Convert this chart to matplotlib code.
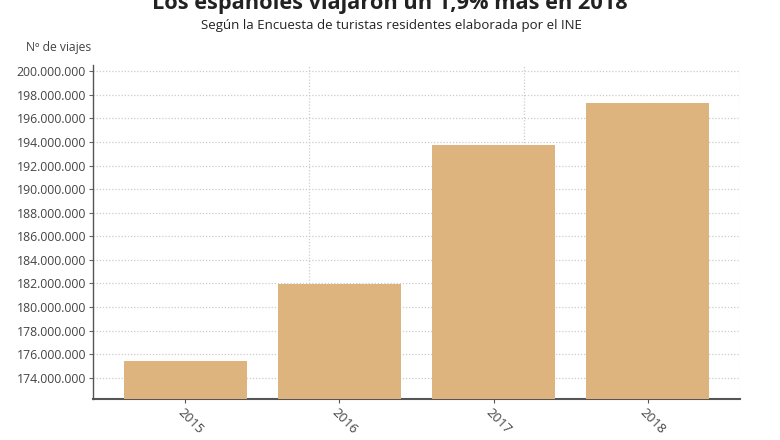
import matplotlib
matplotlib.use("Agg")
import matplotlib.pyplot as plt
from matplotlib.ticker import FuncFormatter, MultipleLocator

years = ["2015", "2016", "2017", "2018"]
trips = [175440000, 181960000, 193700000, 197300000]

title = "Los españoles viajaron un 1,9% más en 2018"
subtitle = "Según la Encuesta de turistas residentes elaborada por el INE"
ylabel = "Nº de viajes"

plt.rcParams['font.family'] = ['Open Sans', 'DejaVu Sans']

fig = plt.figure(figsize=(7.8, 4.4), dpi=100)
ax = fig.add_axes([93/780, 1-399/440, (740-93)/780, (399-65)/440])

x = list(range(len(years)))
ax.bar(x, trips, width=0.8, color="#DDB47E", zorder=3)
ax.set_xlim(-0.6, 3.6)
ax.set_ylim(172190000, 200530000)

ax.yaxis.set_major_locator(MultipleLocator(2000000))
ax.yaxis.set_major_formatter(FuncFormatter(lambda v, p: f"{int(round(v)):,}".replace(",", ".")))
ax.set_xticks(x)
ax.set_xticklabels([])

for xi, lab in zip(x, years):
    ax.annotate(lab, xy=(xi, 0), xycoords=("data", "axes fraction"),
                xytext=(-4, -8), textcoords="offset points",
                rotation=-45, ha="left", va="center", rotation_mode="anchor",
                fontsize=9.5, color="#444444")

ax.tick_params(axis="y", labelsize=8.8, labelcolor="#444444", length=3, color="#666666", pad=2)
ax.tick_params(axis="x", length=3, color="#555555", direction="out")

ax.grid(axis="y", linestyle=(0, (1, 1.5)), color="#cccccc", linewidth=0.9, zorder=0)
for f in [1/3, 2/3, 1.0]:
    ax.axvline(-0.6 + 4.2 * f, linestyle=(0, (1, 1.5)), color="#cccccc", linewidth=0.9, zorder=0)

for s in ["top", "right"]:
    ax.spines[s].set_visible(False)
ax.spines["left"].set_linestyle((0, (1, 1)))
ax.spines["left"].set_color("#555555")
ax.spines["left"].set_linewidth(1.0)
ax.spines["bottom"].set_color("#555555")
ax.spines["bottom"].set_linewidth(1.5)

fig.text(390/780, 1-3/440, title, ha="center", va="center", fontsize=15.7,
         fontweight="bold", color="#222222")
fig.text(391/780, 1-25/440, subtitle, ha="center", va="center", fontsize=9.5,
         color="#222222")
fig.text(59/780, 1-47/440, ylabel, ha="center", va="center", fontsize=8.7,
         color="#444444")

fig.savefig("out.png", dpi=100, facecolor="white")
